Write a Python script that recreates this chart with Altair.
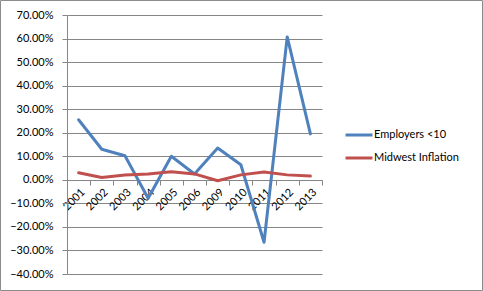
import altair as alt
import pandas as pd

years = ["2001", "2002", "2003", "2004", "2005", "2006", "2009", "2010", "2011", "2012", "2013"]
employers = [0.255, 0.13, 0.102, -0.078, 0.100, 0.025, 0.135, 0.064, -0.265, 0.607, 0.195]
midwest = [0.030, 0.010, 0.020, 0.025, 0.034, 0.025, -0.004, 0.021, 0.033, 0.021, 0.016]
series_names = ["Employers <10", "Midwest Inflation"]
series_colors = ["#4F81BD", "#C0504D"]
y_ticks = [-0.4, -0.3, -0.2, -0.1, 0.0, 0.1, 0.2, 0.3, 0.4, 0.5, 0.6, 0.7]

rows = []
for i, yr in enumerate(years):
    rows.append({"year": yr, "series": series_names[0], "value": employers[i], "order": i})
    rows.append({"year": yr, "series": series_names[1], "value": midwest[i], "order": i})
df = pd.DataFrame(rows)

W, H = 255, 259
FONT = "Lato"
GRID = "#868686"

lines = alt.Chart(df).mark_line(strokeWidth=3, strokeJoin="round", strokeCap="round").encode(
    x=alt.X("year:N", sort=years,
            scale=alt.Scale(paddingInner=0, paddingOuter=0),
            axis=alt.Axis(title=None, labelAngle=-45, labelAlign="right", labelBaseline="top",
                          offset=-94, tickBand="extent", tickSize=5, tickColor=GRID,
                          domainColor=GRID, labelFont=FONT, labelFontSize=11,
                          labelColor="#000000", labelPadding=1, grid=False, zindex=0)),
    y=alt.Y("value:Q",
            scale=alt.Scale(domain=[-0.4, 0.7], nice=False, zero=False),
            axis=alt.Axis(title=None, values=y_ticks, format=".2%", grid=True, gridColor=GRID,
                          gridWidth=1, domainColor=GRID, tickColor=GRID, tickSize=5,
                          labelFont=FONT, labelFontSize=11, labelColor="#000000",
                          labelPadding=9, zindex=0)),
    color=alt.Color("series:N",
                    scale=alt.Scale(domain=series_names, range=series_colors),
                    legend=alt.Legend(title=None, orient="none", legendX=277, legendY=105,
                                      symbolType="stroke", symbolSize=729, symbolStrokeWidth=3,
                                      labelFont=FONT, labelFontSize=11, labelColor="#000000",
                                      rowPadding=2, labelOffset=0)),
    order="order:Q",
)

border = alt.Chart(pd.DataFrame({"a": [0]})).mark_rect(
    fillOpacity=0, stroke="#8c8c8c", strokeWidth=1
).encode(
    x=alt.value(-66.5), x2=alt.value(483 - 67 - 0.5),
    y=alt.value(-14.5), y2=alt.value(291 - 15 - 0.5),
)

chart = alt.layer(lines, border).properties(
    width=W, height=H,
    autosize=alt.AutoSizeParams(type="none"),
    padding={"left": 67, "top": 15, "right": 161, "bottom": 17},
    background="#ffffff",
).configure_view(stroke=None)

chart.save("out.html", embed_options={"renderer": "svg", "actions": False})
